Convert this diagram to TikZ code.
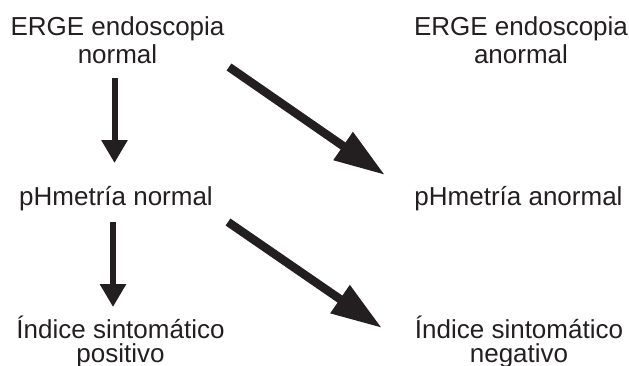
\documentclass[tikz,border=0pt]{standalone}
\usepackage{fontspec}
\setmainfont{Liberation Sans}
\usetikzlibrary{arrows.meta}
\definecolor{ink}{HTML}{231F20}
\tikzset{
  lbl/.style={anchor=base, align=center, text=ink, inner sep=0pt,
    font=\fontsize{26}{28}\selectfont},
  lbltight/.style={lbl, font=\fontsize{26}{23.5}\selectfont},
  varrow/.style={draw=ink, line width=6pt,
    -{Triangle[length=23pt, width=25pt, fill=ink]}},
  darrow/.style={draw=ink, line width=8.5pt,
    -{Triangle[length=51pt, width=32pt, fill=ink]}}
}
\begin{document}
\begin{tikzpicture}[x=1pt, y=-1pt]
\useasboundingbox (0,0) rectangle (629,365);
% labels (base anchor = baseline of the last line)
\node[lbl] (n1) at (117.5,63) {ERGE endoscopia\\normal};
\node[lbl] (n2) at (521,63) {ERGE endoscopia\\anormal};
\node[lbl] (n3) at (116,205) {pHmetría normal};
\node[lbl] (n4) at (518.5,205) {pHmetría anormal};
\node[lbltight] (n5) at (120.5,362) {Índice sintomático\\positivo};
\node[lbltight] (n6) at (519,362) {Índice sintomático\\negativo};
% arrow end points
\coordinate (a1s) at (114.5,78);  \coordinate (a1e) at (114.5,163);
\coordinate (a2s) at (229,67);    \coordinate (a2e) at (385,175);
\coordinate (a3s) at (113,222);   \coordinate (a3e) at (113,307);
\coordinate (a4s) at (228,222);   \coordinate (a4e) at (382,328);
% arrows
\draw[varrow] (a1s) -- (a1e);
\draw[darrow] (a2s) -- (a2e);
\draw[varrow] (a3s) -- (a3e);
\draw[darrow] (a4s) -- (a4e);
\end{tikzpicture}
\end{document}
